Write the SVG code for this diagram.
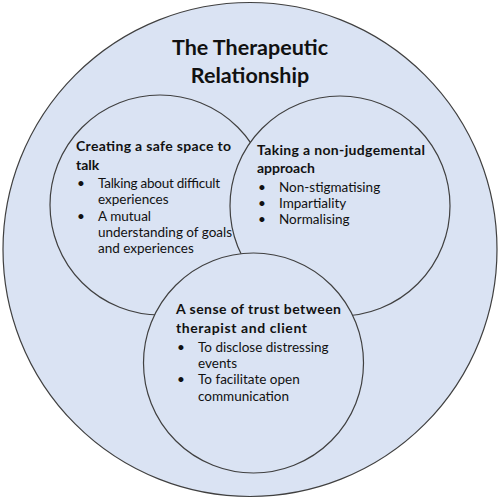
<svg xmlns="http://www.w3.org/2000/svg" width="500" height="500" viewBox="0 0 500 500">
<style>
.c{fill:#dae3f3;stroke:#404040;stroke-width:1.2}
text{font-family:Lato,"Open Sans","Liberation Sans",sans-serif;fill:#111}
.t{font-size:21.5px;font-weight:bold;text-anchor:middle}
.h{font-size:14px;font-weight:bold}
.b{font-size:13.5px}
</style>
<rect width="500" height="500" fill="#ffffff"/>
<g id="outer">
<circle class="c" cx="250" cy="249.5" r="247"/>
<text class="t" x="250" y="55">The Therapeutic</text>
<text class="t" x="250" y="83">Relationship</text>
</g>
<g id="safe-space">
<circle class="c" cx="160" cy="205" r="110"/>
</g>
<g id="non-judgemental">
<circle class="c" cx="340" cy="206" r="110"/>
</g>
<g id="trust">
<circle class="c" cx="253.5" cy="363" r="110"/>
</g>
<g id="safe-space-text">
<text class="h" x="76" y="151" textLength="155" lengthAdjust="spacing">Creating a safe space to</text>
<text class="h" x="76" y="170">talk</text>
<text class="b" x="77" y="188">•</text>
<text class="b" x="98" y="188" textLength="122" lengthAdjust="spacing">Talking about difficult</text>
<text class="b" x="98" y="204">experiences</text>
<text class="b" x="77" y="221">•</text>
<text class="b" x="98" y="221">A mutual</text>
<text class="b" x="98" y="237">understanding of goals</text>
<text class="b" x="98" y="253">and experiences</text>
</g>
<g id="non-judgemental-text">
<text class="h" x="257" y="155" textLength="168" lengthAdjust="spacing">Taking a non-judgemental</text>
<text class="h" x="257" y="173">approach</text>
<text class="b" x="258" y="192">•</text>
<text class="b" x="279" y="192">Non-stigmatising</text>
<text class="b" x="258" y="208">•</text>
<text class="b" x="279" y="208">Impartiality</text>
<text class="b" x="258" y="224">•</text>
<text class="b" x="279" y="224">Normalising</text>
</g>
<g id="trust-text">
<text class="h" x="176" y="314" textLength="165" lengthAdjust="spacing">A sense of trust between</text>
<text class="h" x="176" y="333" textLength="131" lengthAdjust="spacing">therapist and client</text>
<text class="b" x="177" y="352">•</text>
<text class="b" x="198" y="352">To disclose distressing</text>
<text class="b" x="198" y="368">events</text>
<text class="b" x="177" y="384">•</text>
<text class="b" x="198" y="384">To facilitate open</text>
<text class="b" x="198" y="401">communication</text>
</g>
</svg>
